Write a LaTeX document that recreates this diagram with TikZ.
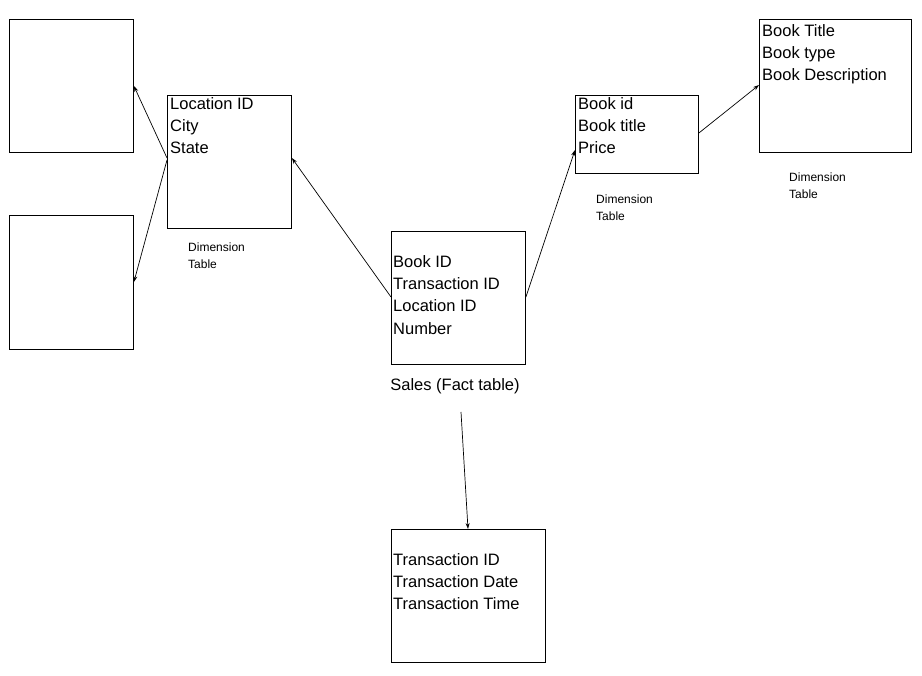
\documentclass[tikz,border=0pt]{standalone}
\usepackage{fontspec}
\setmainfont{Liberation Sans}
\usetikzlibrary{arrows.meta}
\begin{document}
\begin{tikzpicture}[x=1pt,y=-1pt,
  box/.style={draw,line width=0.9pt,anchor=north west,inner sep=0pt},
  txt/.style={anchor=north west,inner sep=0pt,align=left,font=\fontsize{16.5}{22.4}\selectfont},
  lbl/.style={anchor=north west,inner sep=0pt,align=left,font=\fontsize{12}{17}\selectfont},
  arr/.style={-{Stealth[length=6pt,width=4pt]},line width=0.7pt}]
\useasboundingbox (0,0) rectangle (922,676);
\node[box,minimum width=124pt,minimum height=133pt] (tl) at (9,19) {};
\node[box,minimum width=124pt,minimum height=134pt] (bl) at (9,215) {};
\node[box,minimum width=124pt,minimum height=133pt] (loc) at (167,95) {};
\node[box,minimum width=134pt,minimum height=133pt] (fact) at (391,231) {};
\node[box,minimum width=123pt,minimum height=78pt] (book) at (575,95) {};
\node[box,minimum width=152pt,minimum height=133pt] (bt) at (759,19) {};
\node[box,minimum width=154pt,minimum height=133pt] (tr) at (391,529) {};
\node[txt] (loct) at (170,97) {Location ID\\City\\State};
\node[txt] (factt) at (393,255) {Book ID\\Transaction ID\\Location ID\\Number};
\node[txt] (bookt) at (578,97) {Book id\\Book title\\Price};
\node[txt] (btt) at (762,24) {Book Title\\Book type\\Book Description};
\node[txt] (trt) at (393,553) {Transaction ID\\Transaction Date\\Transaction Time};
\node[lbl] (l1) at (188,243) {Dimension\\Table};
\node[lbl] (l2) at (596,195) {Dimension\\Table};
\node[lbl] (l3) at (789,173) {Dimension\\Table};
\node[anchor=center,inner sep=0pt,font=\fontsize{16.5}{20}\selectfont] (sales) at (455,386) {Sales (Fact table)};
\coordinate (s1) at (167,158);
\coordinate (s2) at (167,160);
\draw[arr] (s1) -- (tl.east |- 0,86);
\draw[arr] (s2) -- (bl.east |- 0,282);
\draw[arr] (fact.west |- 0,297) -- (loc.east |- 0,158);
\draw[arr] (fact.east |- 0,297) -- (book.west |- 0,150);
\draw[arr] (book.east |- 0,133) -- (bt.west |- 0,85);
\coordinate (s3) at (461,412);
\draw[arr] (s3) -- (468,529);
\end{tikzpicture}
\end{document}
